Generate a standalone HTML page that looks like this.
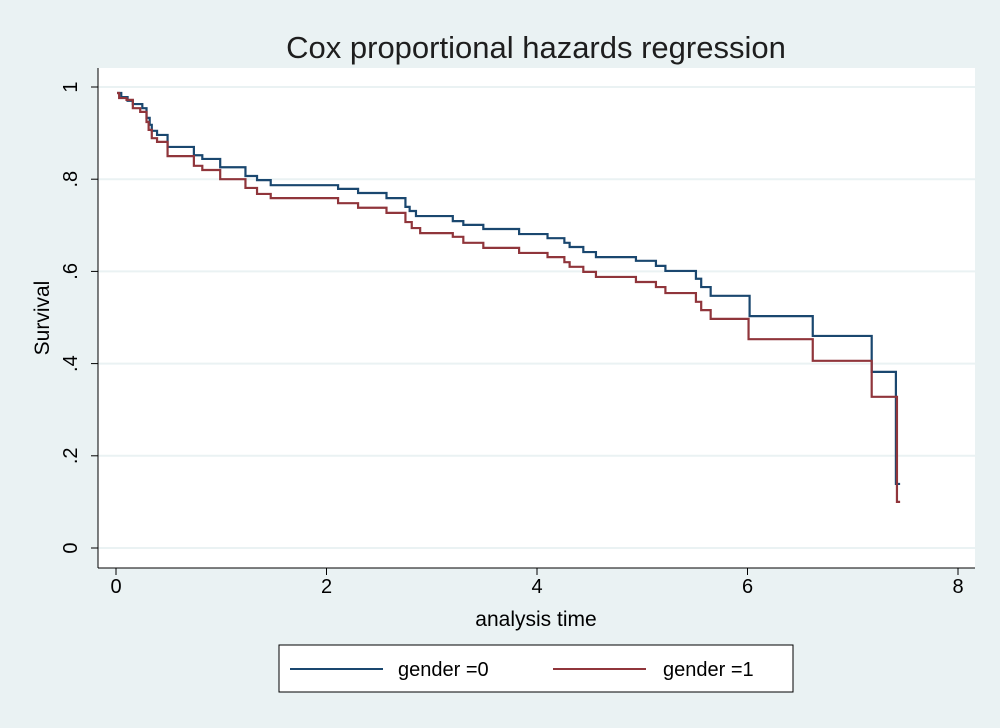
<!DOCTYPE html>
<html><head><meta charset="utf-8"><style>
body{margin:0;background:#eaf2f3;}
svg{display:block;font-family:"Liberation Sans",sans-serif;}
</style></head><body>
<svg id="chart" width="1000" height="728">
<rect x="0" y="0" width="1000" height="728" fill="#eaf2f3"/>
<text x="536" y="58" font-size="31" text-anchor="middle" fill="#1e1e1e">Cox proportional hazards regression</text>
<rect x="98" y="68" width="877" height="500" fill="#fff"/>
<g id="grid"></g>
<g id="series"></g>
<line x1="98" y1="68" x2="98" y2="568" stroke="#000" stroke-width="1"/>
<line x1="98" y1="568" x2="975" y2="568" stroke="#000" stroke-width="1"/>
<g id="axes"></g>
<text x="536" y="626" font-size="21" text-anchor="middle" fill="#000">analysis time</text>
<text transform="translate(49,318) rotate(-90)" font-size="21" text-anchor="middle" fill="#000">Survival</text>
<g>
<rect x="279" y="645" width="514" height="47" fill="#fff" stroke="#000" stroke-width="1"/>
<line x1="290" y1="669" x2="383" y2="669" stroke="#1a476f" stroke-width="2"/>
<text x="398" y="676" font-size="20" fill="#000">gender =0</text>
<line x1="553" y1="669" x2="646" y2="669" stroke="#90353b" stroke-width="2"/>
<text x="663" y="676" font-size="20" fill="#000">gender =1</text>
</g>
</svg>
<script>
const xTicks=[0,2,4,6,8];
const yTicks=[0,0.2,0.4,0.6,0.8,1];
const yTickLabels=["0",".2",".4",".6",".8","1"];
const t0=[0.01,0.05,0.11,0.16,0.25,0.29,0.32,0.34,0.39,0.49,0.74,0.82,0.99,1.23,1.34,1.47,2.11,2.30,2.57,2.75,2.79,2.85,3.20,3.30,3.49,3.83,4.10,4.26,4.31,4.44,4.56,4.94,5.13,5.22,5.51,5.56,5.65,6.02,6.62,7.18,7.41];
const s0=[0.987,0.978,0.970,0.963,0.954,0.933,0.918,0.905,0.896,0.870,0.852,0.844,0.826,0.807,0.798,0.787,0.779,0.770,0.759,0.740,0.731,0.720,0.709,0.701,0.692,0.681,0.672,0.662,0.653,0.642,0.631,0.623,0.612,0.601,0.584,0.566,0.547,0.503,0.460,0.382,0.139];
const t1=[0.01,0.03,0.10,0.16,0.23,0.29,0.31,0.34,0.39,0.49,0.74,0.82,0.99,1.23,1.34,1.47,2.11,2.30,2.57,2.75,2.81,2.89,3.20,3.30,3.49,3.83,4.10,4.26,4.31,4.44,4.56,4.94,5.13,5.22,5.51,5.56,5.65,6.01,6.62,7.18,7.42];
const s1=[0.987,0.976,0.972,0.954,0.946,0.924,0.907,0.889,0.881,0.850,0.829,0.820,0.800,0.781,0.768,0.759,0.748,0.738,0.727,0.707,0.694,0.683,0.675,0.662,0.651,0.640,0.631,0.620,0.610,0.599,0.588,0.577,0.566,0.553,0.534,0.516,0.497,0.453,0.406,0.328,0.100];
const tEnd=7.45;
const NS="http://www.w3.org/2000/svg";
const X=v=>116+v*105.25, Y=v=>548-v*461;
function mk(tag,attrs,parent){const e=document.createElementNS(NS,tag);for(const k in attrs)e.setAttribute(k,attrs[k]);parent.appendChild(e);return e;}
const grid=document.getElementById('grid'),axes=document.getElementById('axes'),series=document.getElementById('series');
yTicks.forEach((v,i)=>{
  const g=mk('line',{x1:98,x2:975,y1:Y(v),y2:Y(v),stroke:'#eaf2f3','stroke-width':2},grid);
  
  
  const tk=mk('line',{x1:91,x2:98,y1:Y(v),y2:Y(v),stroke:'#000'},axes);
  
  
  const tx=mk('text',{transform:`translate(77,${Y(v)}) rotate(-90)`,'font-size':20,'text-anchor':'middle',fill:'#000'},axes);
  tx.textContent=yTickLabels[i];
  
  
});
xTicks.forEach(v=>{
  const tk=mk('line',{x1:X(v),x2:X(v),y1:568,y2:575,stroke:'#000'},axes);
  
  
  const tx=mk('text',{x:X(v),y:593,'font-size':20,'text-anchor':'middle',fill:'#000'},axes);
  tx.textContent=String(v);
  
  
});
function stepPath(t,s){
  let d=`M${X(t[0])},${Y(s[0])}`;
  for(let i=1;i<t.length;i++){d+=` H${X(t[i])} V${Y(s[i])}`;}
  d+=` H${X(tEnd)}`;
  return d;
}
const p0=mk('path',{d:stepPath(t0,s0),fill:'none',stroke:'#1a476f','stroke-width':2.2},series);


const p1=mk('path',{d:stepPath(t1,s1),fill:'none',stroke:'#90353b','stroke-width':2.2},series);


</script>
</body></html>
